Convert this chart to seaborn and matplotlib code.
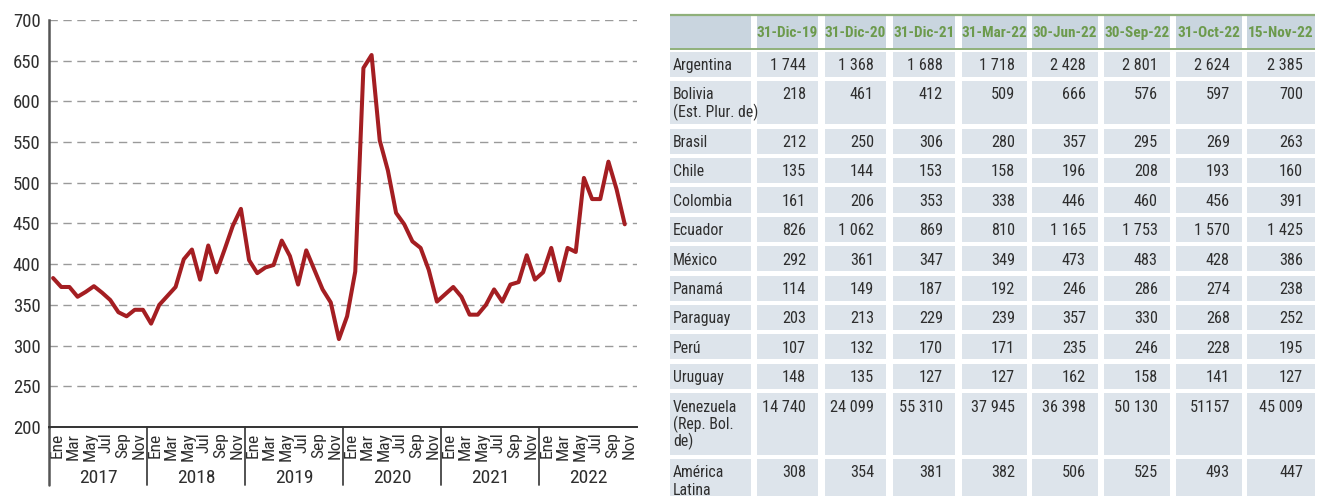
import numpy as np
import pandas as pd
import matplotlib
matplotlib.use("Agg")
import matplotlib.pyplot as plt
import seaborn as sns
from matplotlib.patches import Rectangle

# ---------------- data ----------------
years = [2017, 2018, 2019, 2020, 2021, 2022]
month_labels = ["Ene", "Mar", "May", "Jul", "Sep", "Nov"]

spread_2017 = [383, 372, 372, 360, 366, 373, 365, 356, 341, 336, 344, 344]
spread_2018 = [327, 350, 361, 372, 406, 418, 381, 423, 390, 418, 447, 468]
spread_2019 = [405, 389, 396, 399, 429, 410, 375, 417, 393, 369, 353, 308]
spread_2020 = [336, 391, 641, 657, 552, 515, 463, 449, 428, 420, 393, 354]
spread_2021 = [363, 372, 360, 338, 338, 350, 369, 354, 375, 378, 411, 381]
spread_2022 = [390, 420, 380, 420, 415, 506, 480, 480, 526, 492, 449]

dates = ["31-Dic-19", "31-Dic-20", "31-Dic-21", "31-Mar-22",
         "30-Jun-22", "30-Sep-22", "31-Oct-22", "15-Nov-22"]
countries = ["Argentina", "Bolivia\n(Est. Plur. de)", "Brasil", "Chile",
             "Colombia", "Ecuador", "México", "Panamá", "Paraguay", "Perú",
             "Uruguay", "Venezuela\n(Rep. Bol.\nde)", "América\nLatina"]
argentina = ["1 744", "1 368", "1 688", "1 718", "2 428", "2 801", "2 624", "2 385"]
bolivia = ["218", "461", "412", "509", "666", "576", "597", "700"]
brasil = ["212", "250", "306", "280", "357", "295", "269", "263"]
chile = ["135", "144", "153", "158", "196", "208", "193", "160"]
colombia = ["161", "206", "353", "338", "446", "460", "456", "391"]
ecuador = ["826", "1 062", "869", "810", "1 165", "1 753", "1 570", "1 425"]
mexico = ["292", "361", "347", "349", "473", "483", "428", "386"]
panama = ["114", "149", "187", "192", "246", "286", "274", "238"]
paraguay = ["203", "213", "229", "239", "357", "330", "268", "252"]
peru = ["107", "132", "170", "171", "235", "246", "228", "195"]
uruguay = ["148", "135", "127", "127", "162", "158", "141", "127"]
venezuela = ["14 740", "24 099", "55 310", "37 945", "36 398", "50 130", "51157", "45 009"]
america_latina = ["308", "354", "381", "382", "506", "525", "493", "447"]
table_rows = [argentina, bolivia, brasil, chile, colombia, ecuador, mexico,
              panama, paraguay, peru, uruguay, venezuela, america_latina]

# ---------------- style ----------------
sns.set_style("white")
FAM = ["Roboto Condensed", "Archivo Narrow", "DejaVu Sans"]
plt.rcParams["font.family"] = FAM

LINE = "#a41e22"
TXT = "#2e2e2e"
GRID = "#9a9a9a"
HDR_BG = "#c9d5df"
CELL_BG = "#dde4eb"
GREEN_LINE = "#8fb07a"
GREEN_TXT = "#6c9a4c"

W, H = 1324, 496
fig = plt.figure(figsize=(W / 100, H / 100), dpi=100)

# ---------------- table (pixel coordinates) ----------------
tab = fig.add_axes([0, 0, 1, 1])
tab.set_xlim(0, W)
tab.set_ylim(H, 0)
tab.axis("off")
tab.patch.set_visible(False)

lab_l, lab_r = 670, 751
col_l = [757, 825, 893, 962, 1032, 1104, 1176, 1247]
col_r = [818, 886, 955, 1027, 1098, 1170, 1242, 1315]

# header
tab.add_patch(Rectangle((lab_l, 16), lab_r - lab_l, 32.5, color=HDR_BG, lw=0))
for k, d in enumerate(dates):
    tab.add_patch(Rectangle((col_l[k], 16), col_r[k] - col_l[k], 32.5, color=HDR_BG, lw=0))
    tab.text((col_l[k] + col_r[k]) / 2, 37, d, ha="center", va="baseline",
             fontsize=11, fontweight="bold", color=GREEN_TXT, family=FAM)
tab.plot([lab_l, col_r[-1]], [15.2, 15.2], color=GREEN_LINE, lw=1.6, solid_capstyle="butt")
tab.plot([lab_l, col_r[-1]], [49.3, 49.3], color=GREEN_LINE, lw=1.4, solid_capstyle="butt")

top = 51.5
for name, vals in zip(countries, table_rows):
    lines = name.split("\n")
    n = len(lines)
    pitch = 29.4 + 18.2 * (n - 1)
    h = pitch - 4.2
    tab.add_patch(Rectangle((lab_l, top), lab_r - lab_l, h, color=CELL_BG, lw=0))
    for i, ln in enumerate(lines):
        tab.text(lab_l + 3, top + 18.5 + 17.5 * i, ln, ha="left", va="baseline",
                 fontsize=11.3, color=TXT, family=FAM)
    for k, v in enumerate(vals):
        tab.add_patch(Rectangle((col_l[k], top), col_r[k] - col_l[k], h, color=CELL_BG, lw=0))
        tab.text(col_r[k] - 12, top + 18.5, v, ha="right", va="baseline",
                 fontsize=11.7, color=TXT, family=FAM)
    top += pitch

# ---------------- line chart ----------------
values = spread_2017 + spread_2018 + spread_2019 + spread_2020 + spread_2021 + spread_2022
df = pd.DataFrame({"pos": np.arange(len(values)) + 0.5, "valor": values})

ax = fig.add_axes([49 / W, 1 - 427 / H, (637 - 49) / W, (427 - 20) / H])
ax.patch.set_visible(False)
sns.lineplot(data=df, x="pos", y="valor", ax=ax, color=LINE, linewidth=2.9)

ax.set_xlim(0, 72)
ax.set_ylim(200, 700)
ax.set_xlabel("")
ax.set_ylabel("")
ax.set_yticks(np.arange(200, 701, 50))
ax.yaxis.grid(True, linestyle=(0, (6, 4)), color=GRID, linewidth=1.0)
ax.xaxis.grid(False)
ax.set_axisbelow(True)

for s in ["top", "right"]:
    ax.spines[s].set_visible(False)
ax.spines["left"].set_color("#555555")
ax.spines["left"].set_linewidth(1.8)
ax.spines["bottom"].set_color("#333333")
ax.spines["bottom"].set_linewidth(1.4)

ax.tick_params(axis="y", length=4, width=1.2, color="#555555", labelsize=13.5,
               labelcolor=TXT, pad=2)
ax.set_xticks(np.arange(1, 72, 2))
ax.set_xticklabels(month_labels * len(years), rotation=90, fontsize=12.5, color=TXT)
ax.set_xticks(np.arange(0, 73, 2), minor=True)
ax.tick_params(axis="x", which="major", length=0, pad=4)
ax.tick_params(axis="x", which="minor", length=4, width=1.1, color="#333333", direction="out")

axh = 427 - 20
xtr = ax.get_xaxis_transform()
for k, yr in enumerate(years):
    ax.text(12 * k + 6, -(478 - 427) / axh, str(yr), transform=xtr, ha="center",
            va="center", fontsize=14, color=TXT)
    ax.plot([12 * k, 12 * k], [0, -(485 - 427) / axh], transform=xtr, clip_on=False,
            color="#444444" if k else "#555555", lw=1.3 if k else 1.8)

fig.savefig("out.png", dpi=100)
